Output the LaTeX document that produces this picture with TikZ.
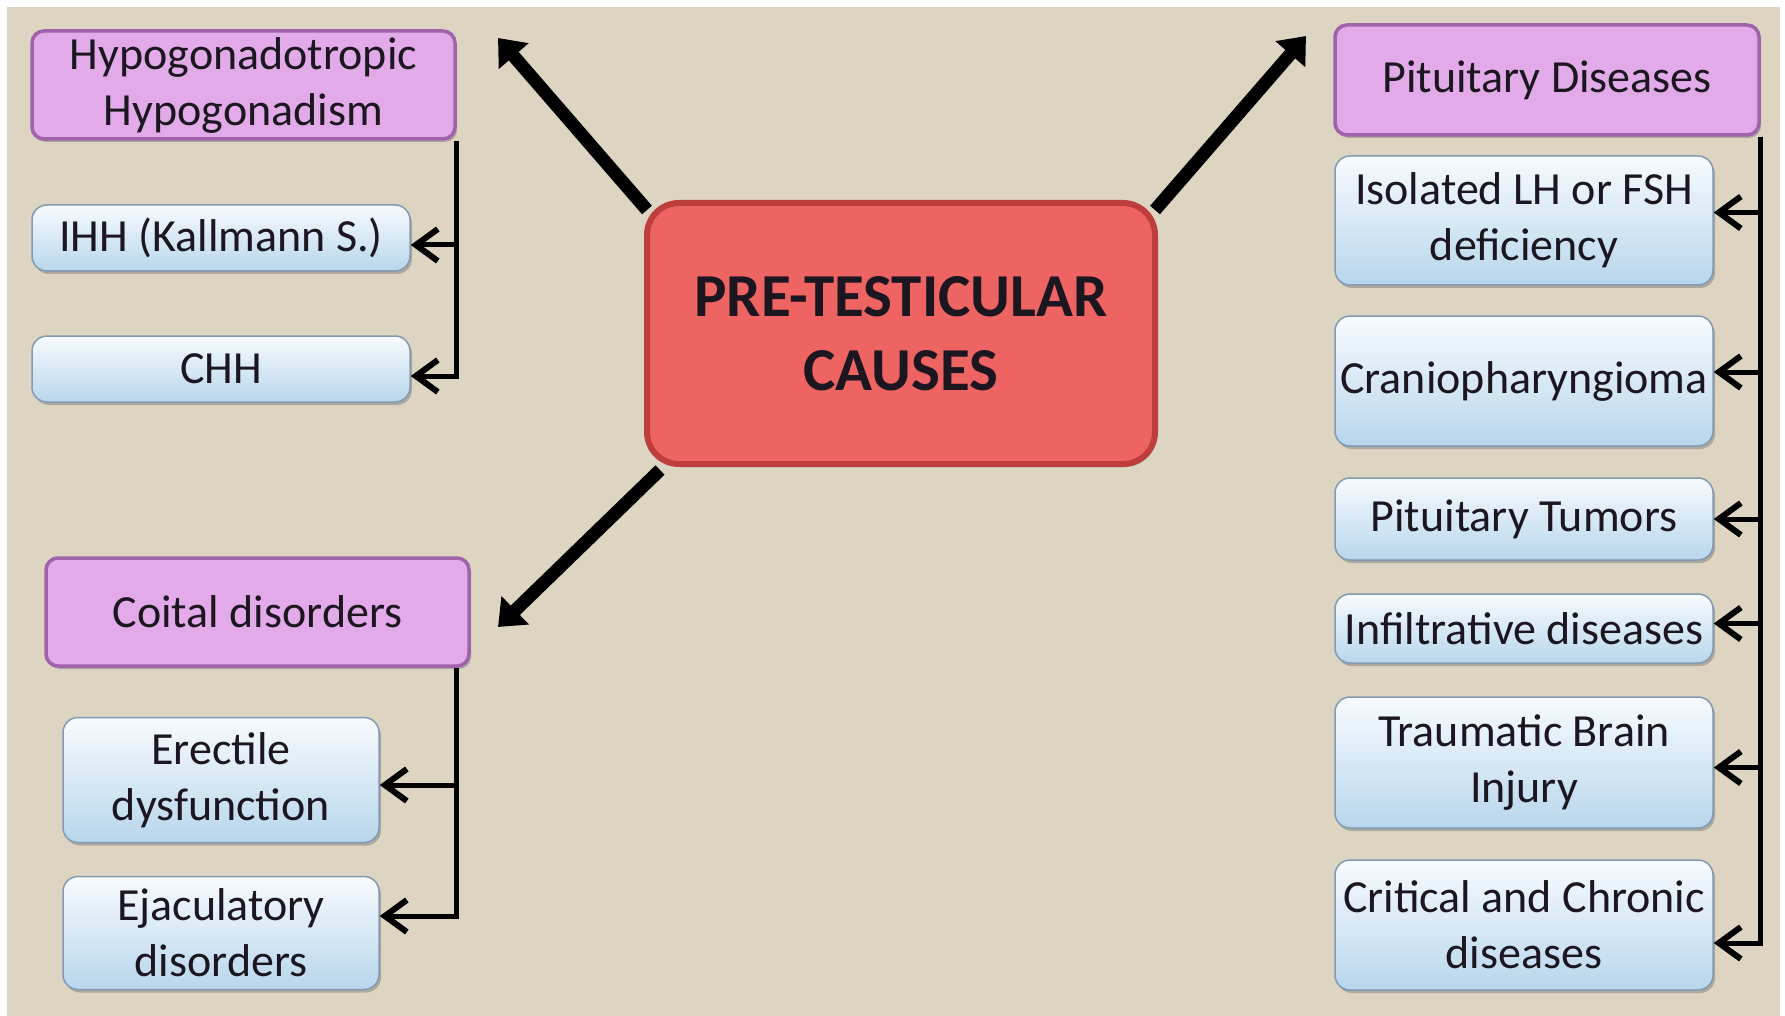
\documentclass[tikz,border=0pt]{standalone}
\usepackage{fontspec}
\setmainfont{Carlito}
\usetikzlibrary{arrows.meta,shadows}

\definecolor{paper}{RGB}{221,212,194}
\definecolor{violetfill}{RGB}{226,170,232}
\definecolor{violetline}{RGB}{160,98,170}
\definecolor{bluetop}{RGB}{247,251,254}
\definecolor{bluebot}{RGB}{184,214,236}
\definecolor{blueline}{RGB}{130,155,178}
\definecolor{redfill}{RGB}{238,100,98}
\definecolor{redline}{RGB}{190,62,62}
\definecolor{ink}{RGB}{28,22,32}

\begin{document}
\begin{tikzpicture}[x=1pt,y=-1pt,
  every node/.style={font=\fontsize{46}{56}\selectfont, text=ink, align=center, inner sep=0pt},
  softshadow/.style={drop shadow={shadow xshift=2pt, shadow yshift=-3pt, opacity=0.4, fill=black!60}},
  headbox/.style={draw=violetline, line width=3.5pt, fill=violetfill, rounded corners=12pt,
    minimum width=423pt, minimum height=108pt, softshadow},
  itembox/.style={draw=blueline, line width=1.5pt, top color=bluetop, bottom color=bluebot,
    rounded corners=15pt, minimum width=378pt, softshadow},
  corebox/.style={draw=redline, line width=6pt, fill=redfill, rounded corners=32pt,
    minimum width=508pt, minimum height=261pt, softshadow,
    font=\fontsize{61}{74}\selectfont\bfseries},
  link/.style={line width=5pt, -{Straight Barb[length=22pt,width=32pt,line width=6pt]}},
  bigarrow/.style={line width=13pt, -{Triangle[length=24pt,width=38pt]}}
]
% canvas
\useasboundingbox (0,0) rectangle (1785,1016);
\fill[white] (0,0) rectangle (1785,1016);
\fill[paper] (7,7) rectangle (1780,1016);

% centre
\node[corebox] (core) at (901,333.5) {PRE-TESTICULAR\\CAUSES};

% left upper group
\node[headbox] (hypo) at (243.5,85) {Hypogonadotropic\\Hypogonadism};
\node[itembox, minimum height=66pt] (ihh) at (221,238) {IHH (Kallmann S.)};
\node[itembox, minimum height=66pt] (chh) at (221,369) {CHH};

% left lower group
\node[headbox] (coital) at (257.5,612) {Coital disorders};
\node[itembox, minimum width=316pt, minimum height=125pt] (erect) at (221,780) {Erectile\\dysfunction};
\node[itembox, minimum width=316pt, minimum height=113pt] (ejac) at (221,933) {Ejaculatory\\disorders};

% right group
\node[headbox, minimum width=424pt, minimum height=110pt] (pit) at (1547,80) {Pituitary Diseases};
\node[itembox, minimum height=129pt] (iso) at (1524,220.5) {Isolated LH or FSH\\deficiency};
\node[itembox, minimum height=130pt] (cranio) at (1524,381) {Craniopharyngioma};
\node[itembox, minimum height=82pt] (tumor) at (1524,519) {Pituitary Tumors};
\node[itembox, minimum height=69pt] (infil) at (1524,628.5) {Infiltrative diseases};
\node[itembox, minimum height=131pt] (tbi) at (1524,762.5) {Traumatic Brain\\Injury};
\node[itembox, minimum height=130pt] (crit) at (1524,925) {Critical and Chronic\\diseases};

% tips of the main arrows
\coordinate (nwtip) at (498,38);
\coordinate (netip) at (1306,36);
\coordinate (swtip) at (498,627);

\draw[bigarrow] ([shift={(3,10)}]core.north west) -- (nwtip);
\draw[bigarrow] ([shift={(-3,10)}]core.north east) -- (netip);
\draw[bigarrow] ([shift={(16,3)}]core.south west) -- (swtip);

% branch connectors
\draw[link] (hypo.south east) |- ([yshift=-7pt]ihh.east);
\draw[link] (hypo.south east) |- ([yshift=-7pt]chh.east);
\draw[link] ([xshift=-14pt]coital.south east) |- ([yshift=-5pt]erect.east);
\draw[link] ([xshift=-14pt]coital.south east) |- ([yshift=17pt]ejac.east);
\draw[link] (pit.south east) |- ([yshift=8pt]iso.east);
\draw[link] (pit.south east) |- ([yshift=9pt]cranio.east);
\draw[link] (pit.south east) |- (tumor.east);
\draw[link] (pit.south east) |- ([yshift=5pt]infil.east);
\draw[link] (pit.south east) |- ([yshift=-5pt]tbi.east);
\draw[link] (pit.south east) |- ([yshift=-18pt]crit.east);
\end{tikzpicture}
\end{document}
